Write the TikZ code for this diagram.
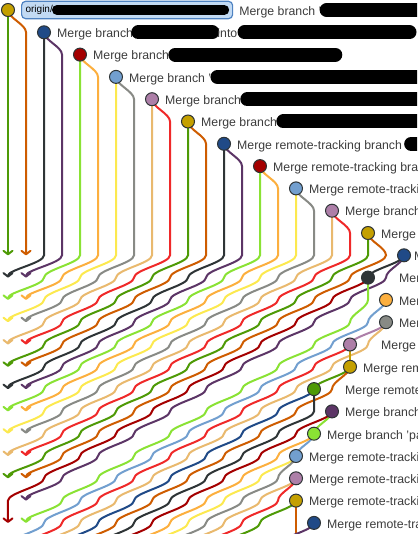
\documentclass[tikz,border=0pt]{standalone}
\usepackage{fontspec}
\setmainfont{Liberation Sans}
\usetikzlibrary{arrows.meta,positioning}
\definecolor{moss}{HTML}{4E9A06}
\definecolor{rust}{HTML}{CE5C00}
\definecolor{ink}{HTML}{2E3436}
\definecolor{plum}{HTML}{5C3566}
\definecolor{lime}{HTML}{8AE234}
\definecolor{amber}{HTML}{FCAF3E}
\definecolor{butter}{HTML}{FCE94F}
\definecolor{ash}{HTML}{888A85}
\definecolor{sand}{HTML}{E9B96E}
\definecolor{scarlet}{HTML}{EF2929}
\definecolor{sky}{HTML}{729FCF}
\definecolor{navy}{HTML}{204A87}
\definecolor{wine}{HTML}{A40000}
\definecolor{mauve}{HTML}{AD7FA8}
\definecolor{gold}{HTML}{C4A000}
\definecolor{msgtext}{HTML}{3C3C3C}
\definecolor{reffill}{HTML}{C2DAF3}
\definecolor{refline}{HTML}{4F83C2}
\tikzset{
  commit/.style={circle,draw=ink,line width=1pt,minimum size=13pt,inner sep=0pt},
  lane/.style={line width=2pt,line cap=round},
  tip/.style={-{Straight Barb[length=3.5pt,width=9pt,round]}},
  msg/.style={anchor=base west,inner sep=0pt,text=msgtext,font=\fontsize{12.3pt}{14pt}\selectfont},
  refbox/.style={draw=refline,fill=reffill,rounded corners=4pt,line width=1.2pt,
    minimum height=15pt,text width=203pt,inner sep=4pt,align=left,font=\fontsize{10pt}{12pt}\selectfont},
  blot/.style={draw=black,line width=14pt,line cap=round},
}
\begin{document}
\begin{tikzpicture}[x=18pt,y=-22.3pt]
  \useasboundingbox (-8pt,10pt) rectangle (409pt,-524pt);
  \clip (-8pt,10pt) rectangle (409pt,-524pt);

  % commit positions (lane, row)
  \foreach \n/\l/\r in {0/0/0,1/2/1,2/4/2,3/6/3,4/8/4,5/10/5,6/12/6,7/14/7,
      8/16/8,9/18/9,10/20/10,11/22/11,12/20/12,13/21/13,14/21/14,15/19/15,
      16/19/16,17/17/17,18/18/18,19/17/19,20/16/20,21/16/21,22/16/22,23/17/23}
    \coordinate (p\n) at (\l,\r);

  % top block: every merge keeps its two parents straight down
  \draw[lane,moss,tip] (p0) -- (0,11);
  \draw[lane,rust,tip] (p0) .. controls +(0,.35) and +(0,-.35) .. (1,1) -- (1,11);
  \foreach \k/\ca/\cb in {1/ink/plum,2/lime/amber,3/butter/ash,4/sand/scarlet,
      5/moss/rust,6/ink/plum,7/lime/amber,8/butter/ash,9/sand/scarlet,10/moss/rust}{
    \pgfmathtruncatemacro\e{10+\k}
    \draw[lane,\ca,tip] (p\k) -- ({2*\k},11)
      \foreach \r in {11,...,\e} { .. controls +(0,.35) and +(0,-.35) .. ({2*(10+\k-\r)},{\r+1}) };
    \draw[lane,\cb,tip] (p\k) .. controls +(0,.35) and +(0,-.35) .. ({2*\k+1},{\k+1}) -- ({2*\k+1},11)
      \foreach \r in {11,...,\e} { .. controls +(0,.35) and +(0,-.35) .. ({2*(10+\k-\r)+1},{\r+1}) };
  }

  % lower right: lanes slide two columns per row
  \draw[lane,ink] (p11) .. controls +(0,.35) and +(0,-.35) .. (p12);
  \draw[lane,plum,tip] (p11) .. controls +(0,.35) and +(0,-.35) .. (21,12)
    \foreach \r in {13,...,22} { .. controls +(0,.35) and +(0,-.35) .. ({45-2*\r},\r) };
  \draw[lane,wine,tip] (p12)
    \foreach \r in {13,...,22} { .. controls +(0,.35) and +(0,-.35) .. ({44-2*\r},\r) } -- (0,23);
  \draw[lane,lime,tip] (p12) -- (20,13) .. controls +(0,.35) and +(0,-.35) .. (19,14)
    \foreach \r in {15,...,23} { .. controls +(0,.35) and +(0,-.35) .. ({47-2*\r},\r) };
  \draw[lane,sky] (p13)
    \foreach \r in {14,...,24} { .. controls +(0,.35) and +(0,-.35) .. ({48-2*\r},\r) };
  \draw[lane,mauve] (p14) .. controls +(0,.35) and +(0,-.35) .. (p15);
  \draw[lane,sand] (p14) .. controls +(0,.35) and +(0,-.35) .. (20,15)
    \foreach \r in {16,...,24} { .. controls +(0,.35) and +(0,-.35) .. ({50-2*\r},\r) };
  \draw[lane,gold] (p15) -- (p16);
  \draw[lane,scarlet] (p15)
    \foreach \r in {16,...,24} { .. controls +(0,.35) and +(0,-.35) .. ({49-2*\r},\r) };
  \draw[lane,moss] (p16) .. controls +(0,.35) and +(0,-.35) .. (p17);
  \draw[lane,rust] (p16) .. controls +(0,.35) and +(0,-.35) .. (18,17)
    \foreach \r in {18,...,24} { .. controls +(0,.35) and +(0,-.35) .. ({52-2*\r},\r) };
  \draw[lane,ink] (p17) -- (17,18)
    \foreach \r in {19,...,24} { .. controls +(0,.35) and +(0,-.35) .. ({53-2*\r},\r) };
  \draw[lane,navy] (p17)
    \foreach \r in {18,...,24} { .. controls +(0,.35) and +(0,-.35) .. ({51-2*\r},\r) };
  \draw[lane,lime] (p18) .. controls +(0,.35) and +(0,-.35) .. (p19);
  \draw[lane,wine] (p18)
    \foreach \r in {19,...,24} { .. controls +(0,.35) and +(0,-.35) .. ({54-2*\r},\r) };
  \draw[lane,sky] (p19) .. controls +(0,.35) and +(0,-.35) .. (p20);
  \draw[lane,amber] (p19)
    \foreach \r in {20,...,24} { .. controls +(0,.35) and +(0,-.35) .. ({55-2*\r},\r) };
  \draw[lane,butter] (p20)
    \foreach \r in {21,...,24} { .. controls +(0,.35) and +(0,-.35) .. ({56-2*\r},\r) };
  \draw[lane,ash] (p20) .. controls +(0,.35) and +(0,-.35) .. (15,21)
    \foreach \r in {22,...,24} { .. controls +(0,.35) and +(0,-.35) .. ({57-2*\r},\r) };
  \draw[lane,sand] (p21)
    \foreach \r in {22,...,24} { .. controls +(0,.35) and +(0,-.35) .. ({58-2*\r},\r) };
  \draw[lane,scarlet] (p21) .. controls +(0,.35) and +(0,-.35) .. (15,22)
    \foreach \r in {23,24} { .. controls +(0,.35) and +(0,-.35) .. ({59-2*\r},\r) };
  \draw[lane,moss] (p22)
    \foreach \r in {23,24} { .. controls +(0,.35) and +(0,-.35) .. ({60-2*\r},\r) };
  \draw[lane,rust] (p22) -- (16,24);
  \draw[lane,plum] (p23) .. controls +(0,.35) and +(0,-.35) .. (15,24);

  % commits
  \foreach \n/\col in {0/gold,1/navy,2/wine,3/sky,4/mauve,5/gold,6/navy,7/wine,
      8/sky,9/mauve,10/gold,11/navy,12/ink,13/amber,14/ash,15/mauve,16/gold,
      17/moss,18/plum,19/lime,20/sky,21/mauve,22/gold,23/navy}
    \node[commit,fill=\col] (c\n) at (p\n) {};

  % messages of the first rows, partly blacked out
  \node[refbox,anchor=west] (ref0) at ([xshift=13pt]c0.center) {origin/};
  \draw[blot,line width=10pt] ([xshift=36pt]ref0.west) -- ([xshift=-9pt]ref0.east);
  \node[msg] (t0) at ([xshift=6pt,yshift=-5.3pt]ref0.east) {Merge branch '};
  \draw[blot] ([xshift=5pt]t0.east |- c0) -- ++(110pt,0);
  \node[msg] (t1) at ([xshift=13pt,yshift=-5.3pt]c1.center) {Merge branch};
  \draw[blot] ([xshift=5pt]t1.east |- c1) -- ++(74pt,0);
  \node[msg] (t1b) at ([xshift=84pt]t1.base east) {into};
  \draw[blot] ([xshift=7pt]t1b.east |- c1) -- ++(165pt,0);
  \node[msg] (t2) at ([xshift=13pt,yshift=-5.3pt]c2.center) {Merge branch};
  \draw[blot] ([xshift=6pt]t2.east |- c2) -- ++(160pt,0);
  \node[msg] (t3) at ([xshift=13pt,yshift=-5.3pt]c3.center) {Merge branch '};
  \draw[blot] ([xshift=6pt]t3.east |- c3) -- ++(200pt,0);
  \node[msg] (t4) at ([xshift=13pt,yshift=-5.3pt]c4.center) {Merge branch};
  \draw[blot] ([xshift=6pt]t4.east |- c4) -- ++(175pt,0);
  \node[msg] (t5) at ([xshift=13pt,yshift=-5.3pt]c5.center) {Merge branch};
  \draw[blot] ([xshift=6pt]t5.east |- c5) -- ++(150pt,0);
  \node[msg] (t6) at ([xshift=13pt,yshift=-5.3pt]c6.center) {Merge remote-tracking branch};
  \draw[blot] ([xshift=9pt]t6.east |- c6) -- ++(30pt,0);

  % remaining messages, cut by the right edge
  \foreach \r/\l/\txt in {7/14/Merge remote-tracking branch,8/16/Merge remote-tracking branch,
      9/18/Merge branch,10/20/Merge branch,12/21/Merge remote-tracking branch,
      13/21/Merge remote-tracking branch,14/21/Merge remote-tracking branch,15/20/Merge branch,
      16/19/Merge remote-tracking branch,17/18/Merge remote-tracking branch,18/18/Merge branch,
      19/17/Merge branch 'pa,20/16/Merge remote-tracking branch,21/16/Merge remote-tracking branch,
      22/16/Merge remote-tracking branch,23/17/Merge remote-tracking branch}
    \node[msg] (t\r) at ([xshift=13pt,yshift=-5.3pt]\l,\r) {\txt};
  \node[msg] (t11) at ([xshift=10pt,yshift=-5.3pt]22,11) {Merge branch};
\end{tikzpicture}
\end{document}
